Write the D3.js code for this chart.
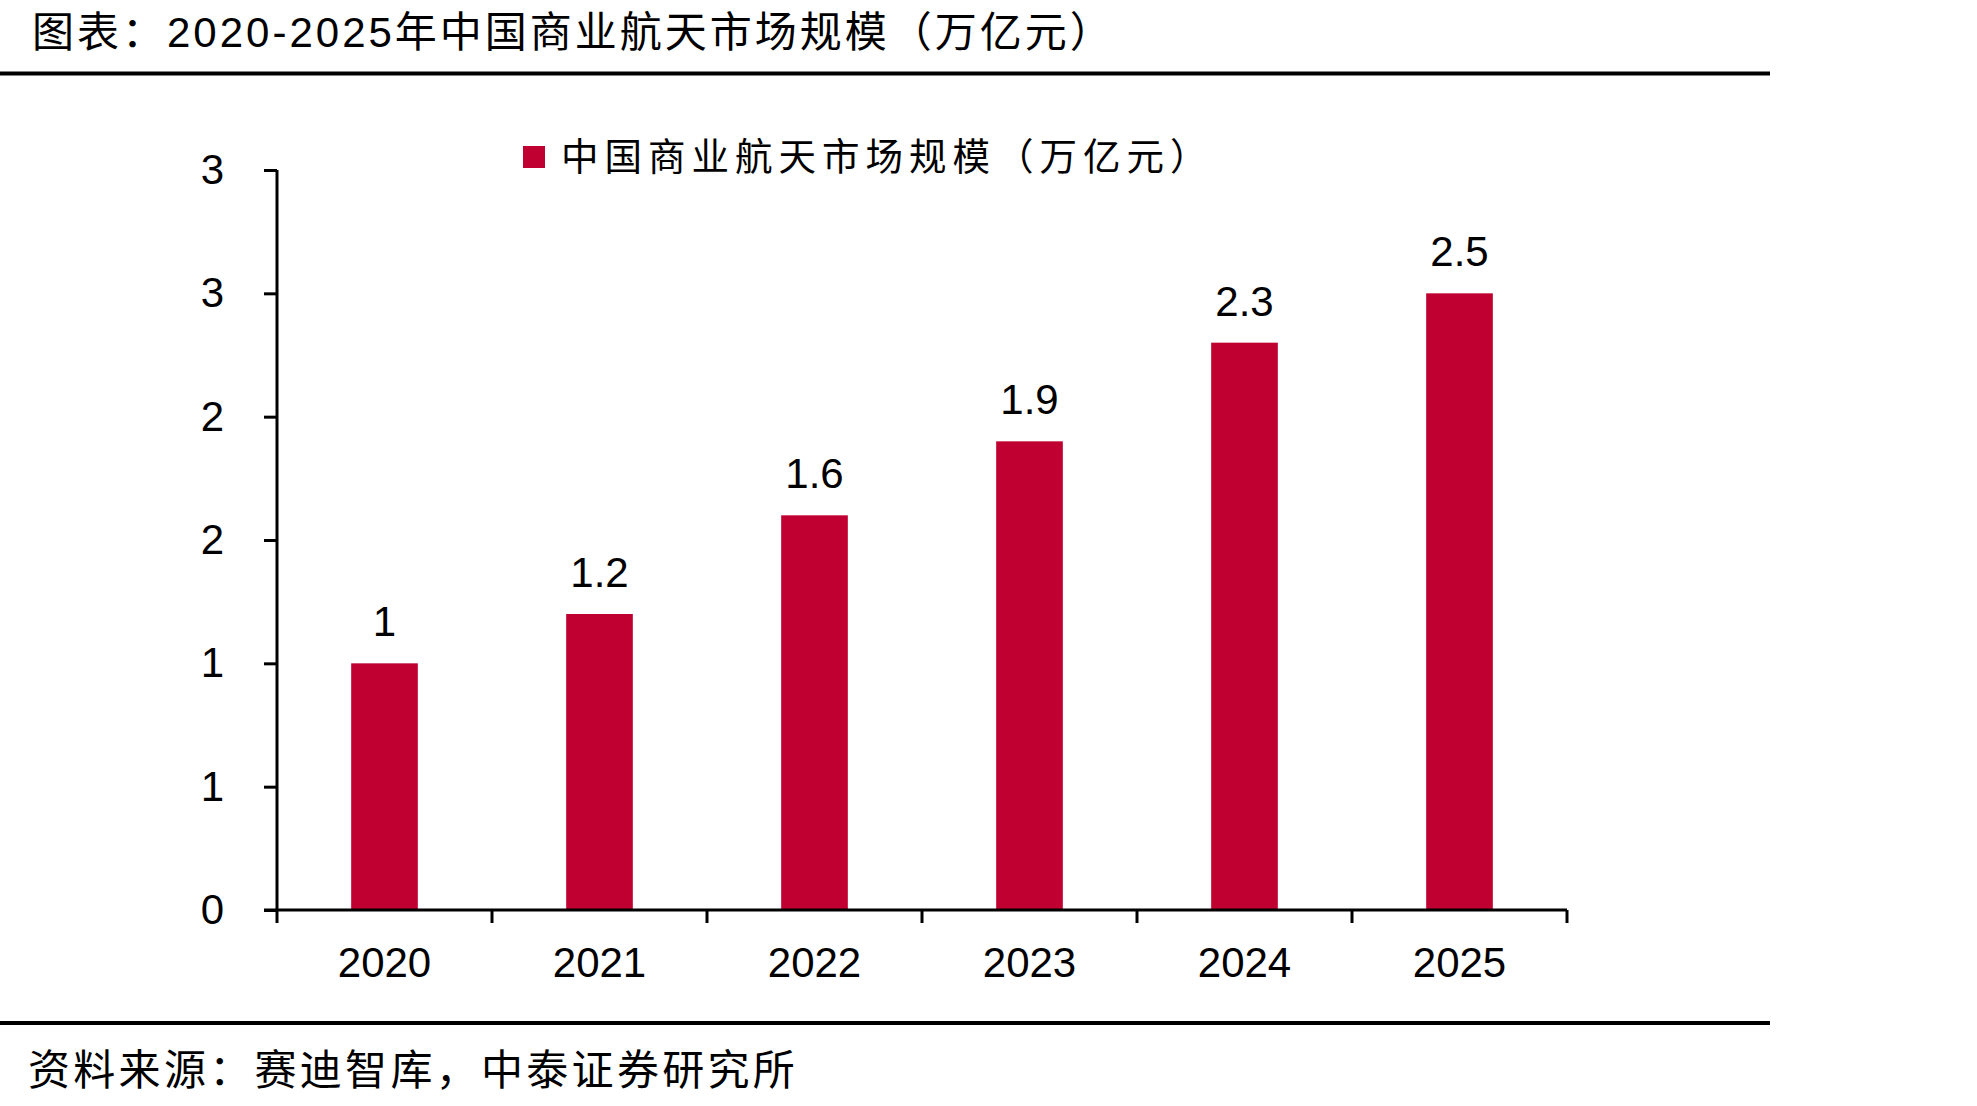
<!DOCTYPE html>
<html>
<head>
<meta charset="utf-8">
<script src="https://cdn.jsdelivr.net/npm/d3@7"></script>
<style>
  body { margin: 0; background: #fff; }
  text { font-family: "Liberation Sans", Arial, "Noto Sans CJK SC", sans-serif; }
</style>
</head>
<body>
<div id="wrapper"></div>
<script>

// data
const years = ["2020", "2021", "2022", "2023", "2024", "2025"]
const marketSize = [1, 1.2, 1.6, 1.9, 2.3, 2.5]
const yTicks = [0, 0.5, 1, 1.5, 2, 2.5, 3]
const yTickLabels = ["0", "1", "1", "2", "2", "3", "3"]

const titleText = "图表：2020-2025年中国商业航天市场规模（万亿元）"
const legendText = "中国商业航天市场规模（万亿元）"
const sourceText = "资料来源：赛迪智库，中泰证券研究所"

async function drawBarChart() {

    let dimensions = {
        width: 1977,
        height: 1106,
        margin: {
          top: 170,
          right: 410,
          bottom: 196,
          left: 277,
        },
    }
    dimensions.boundedWidth = dimensions.width - dimensions.margin.left - dimensions.margin.right
    dimensions.boundedHeight = dimensions.height - dimensions.margin.top - dimensions.margin.bottom

    const barColor = "#bf0030"

    //draw canvas
    const wrapper = d3.select("#wrapper")
        .append("svg")
        .attr("width", dimensions.width)
        .attr("height", dimensions.height)

    // title and rules
    wrapper.append("text")
        .attr("x", 32)
        .attr("y", 47)
        .attr("font-size", 42)
        .attr("letter-spacing", 3)
        .attr("fill", "#000")
        .text(titleText)

    wrapper.append("line")
        .attr("x1", 0).attr("x2", 1770)
        .attr("y1", 73.5).attr("y2", 73.5)
        .attr("stroke", "#000")
        .attr("stroke-width", 4)

    wrapper.append("line")
        .attr("x1", 0).attr("x2", 1770)
        .attr("y1", 1023).attr("y2", 1023)
        .attr("stroke", "#000")
        .attr("stroke-width", 4)

    wrapper.append("text")
        .attr("x", 28)
        .attr("y", 1085)
        .attr("font-size", 42)
        .attr("letter-spacing", 3.3)
        .attr("fill", "#000")
        .text(sourceText)

    const bounds = wrapper.append("g")
        .style("transform", `translate(${dimensions.margin.left}px, ${dimensions.margin.top}px)`)

    //scales
    const xScale = d3.scaleBand()
        .domain(years)
        .range([0, dimensions.boundedWidth])
        .paddingInner(0.69)
        .paddingOuter(0.345)

    const yScale = d3.scaleLinear()
        .domain([0, 3])
        .range([dimensions.boundedHeight, 0])

    //bars
    bounds.append("g")
        .selectAll("rect")
        .data(years)
        .enter()
        .append("rect")
        .attr("x", d => xScale(d))
        .attr("width", xScale.bandwidth())
        .attr("y", (d, i) => yScale(marketSize[i]))
        .attr("height", (d, i) => dimensions.boundedHeight - yScale(marketSize[i]))
        .attr("fill", barColor)

    //value labels
    bounds.append("g")
        .selectAll("text")
        .data(years)
        .enter()
        .append("text")
        .attr("x", d => xScale(d) + xScale.bandwidth() / 2)
        .attr("y", (d, i) => yScale(marketSize[i]) - 27)
        .attr("text-anchor", "middle")
        .attr("font-size", 42)
        .attr("fill", "#000")
        .text((d, i) => marketSize[i])

    //y axis
    const yAxis = d3.axisLeft(yScale)
        .tickValues(yTicks)
        .tickFormat((d, i) => yTickLabels[i])
        .tickSize(13)
        .tickPadding(40)

    const yAxisGroup = bounds.append("g").call(yAxis)
    yAxisGroup.select(".domain").attr("stroke", "#000").attr("stroke-width", 3)
        .attr("d", `M0,${dimensions.boundedHeight}V0`)
    yAxisGroup.selectAll(".tick line").attr("stroke", "#000").attr("stroke-width", 3)
    yAxisGroup.selectAll(".tick text")
        .attr("font-size", 42)
        .attr("font-family", "Liberation Sans, Arial, sans-serif")
        .attr("fill", "#000")

    //x axis, ticks on the category boundaries
    const xEdges = d3.scaleLinear()
        .domain([0, years.length])
        .range([0, dimensions.boundedWidth])

    const xAxisGroup = bounds.append("g")
        .style("transform", `translateY(${dimensions.boundedHeight}px)`)

    xAxisGroup.append("line")
        .attr("x1", -13)
        .attr("x2", dimensions.boundedWidth)
        .attr("stroke", "#000")
        .attr("stroke-width", 3)

    xAxisGroup.selectAll(".edge")
        .data(d3.range(years.length + 1))
        .enter()
        .append("line")
        .attr("class", "edge")
        .attr("x1", d => xEdges(d))
        .attr("x2", d => xEdges(d))
        .attr("y1", 0)
        .attr("y2", 13)
        .attr("stroke", "#000")
        .attr("stroke-width", 3)

    xAxisGroup.selectAll(".label")
        .data(years)
        .enter()
        .append("text")
        .attr("class", "label")
        .attr("x", d => xScale(d) + xScale.bandwidth() / 2)
        .attr("y", 67)
        .attr("text-anchor", "middle")
        .attr("font-size", 42)
        .attr("fill", "#000")
        .text(d => d)

    //legend
    const legend = wrapper.append("g")
    legend.append("rect")
        .attr("x", 523)
        .attr("y", 146)
        .attr("width", 22)
        .attr("height", 22)
        .attr("fill", barColor)
    legend.append("text")
        .attr("x", 561)
        .attr("y", 170)
        .attr("font-size", 37.5)
        .attr("letter-spacing", 6)
        .attr("fill", "#000")
        .text(legendText)
}
drawBarChart()

</script>
</body>
</html>
